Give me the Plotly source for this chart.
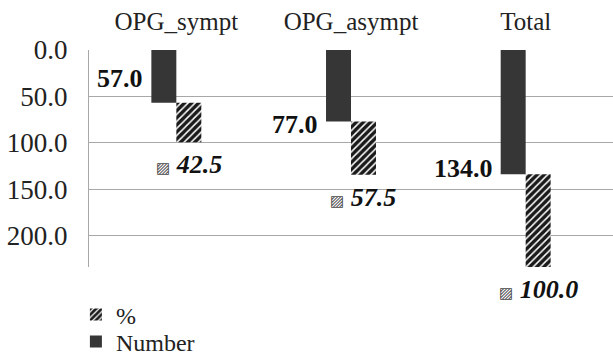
import plotly.graph_objects as go

categories = ["OPG_sympt", "OPG_asympt", "Total"]
number = [57.0, 77.0, 134.0]
percent = [42.5, 57.5, 100.0]
y_ticks = [0, 50, 100, 150, 200]
y_tick_labels = ["0.0", "50.0", "100.0", "150.0", "200.0"]

# styling
bar_w = 0.143
serif = "Liberation Serif, Times New Roman, serif"
dark = "#363636"
number_label_yshift = [24, -3, 6]

fig = go.Figure()
fig.add_bar(
    x=categories, y=number, name="Number", legend="legend2",
    width=bar_w, offset=-bar_w,
    marker=dict(color=dark, line=dict(width=0)),
)
fig.add_bar(
    x=categories, y=percent, base=number, name="%", legend="legend",
    width=bar_w, offset=0,
    marker=dict(color="white", line=dict(width=0),
                pattern=dict(shape="/", fgcolor="#1a1a1a", bgcolor="white",
                             fgopacity=1, size=5, solidity=0.7)),
)

for i, (n, p) in enumerate(zip(number, percent)):
    fig.add_annotation(
        x=i - bar_w - 0.035, y=n, xref="x", yref="y",
        text=f"<b>{n:.1f}</b>", showarrow=False,
        xanchor="right", yanchor="middle", yshift=number_label_yshift[i],
        font=dict(family=serif, size=26, color="#111"),
    )
    fig.add_annotation(
        x=i + bar_w / 2, y=n + p, xref="x", yref="y",
        text=("<span style='font-family:DejaVu Sans;font-size:15px;color:#444'>▨</span>"
              f" <b><i>{p:.1f}</i></b>"),
        showarrow=False, xanchor="center", yanchor="top", yshift=-6,
        font=dict(family=serif, size=26, color="#111"),
    )

legend_common = dict(
    x=-0.025, xanchor="left", yanchor="middle", yref="container",
    font=dict(family=serif, size=24, color="#222"),
    itemwidth=30, bgcolor="rgba(0,0,0,0)",
)

fig.update_layout(
    width=613, height=359,
    margin=dict(l=89, r=0, t=50, b=92, autoexpand=False),
    paper_bgcolor="white", plot_bgcolor="white",
    barmode="overlay",
    font=dict(family=serif, color="#222"),
    showlegend=True,
    legend=dict(y=1 - 315 / 359, **legend_common),
    legend2=dict(y=1 - 342 / 359, **legend_common),
    xaxis=dict(
        type="category", side="top", range=[-0.5, 2.5],
        showline=False, showgrid=False, ticks="", ticklabelstandoff=14,
        tickfont=dict(family=serif, size=25, color="#222"),
    ),
    yaxis=dict(
        range=[234, 0], tickvals=y_ticks, ticktext=y_tick_labels,
        showgrid=True, gridcolor="#a8a8a8", gridwidth=1.2,
        showline=True, linecolor="#a8a8a8", linewidth=1.2,
        zeroline=False, ticks="", ticklabelstandoff=15,
        tickfont=dict(family=serif, size=27, color="#222"),
    ),
)

fig.write_html("out.html")
